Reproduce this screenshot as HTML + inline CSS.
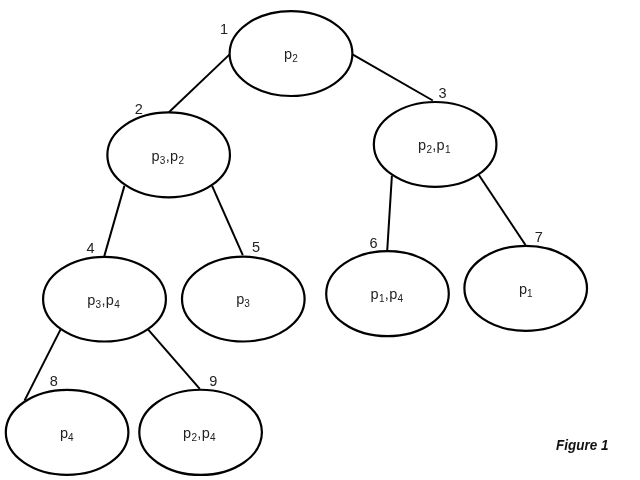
<!DOCTYPE html><html><head><meta charset="utf-8"><style>html,body{margin:0;padding:0;background:#fff;}svg{display:block;will-change:transform;}text{font-family:"Liberation Sans",sans-serif;fill:#222;}</style></head><body>
<svg width="640" height="480" viewBox="0 0 640 480">
<rect width="640" height="480" fill="#fff"/>
<line x1="229.4" y1="54.6" x2="168.9" y2="112.2" stroke="#000" stroke-width="2.0"/>
<line x1="352.9" y1="54.6" x2="432.8" y2="100.5" stroke="#000" stroke-width="2.0"/>
<line x1="124.4" y1="185.9" x2="104.3" y2="256.1" stroke="#000" stroke-width="2.0"/>
<line x1="212.1" y1="185.9" x2="242.8" y2="255.2" stroke="#000" stroke-width="2.0"/>
<line x1="391.9" y1="175.6" x2="387.2" y2="250.7" stroke="#000" stroke-width="2.0"/>
<line x1="478.9" y1="175" x2="525.5" y2="245.0" stroke="#000" stroke-width="2.0"/>
<line x1="60.6" y1="329.4" x2="24.5" y2="400.6" stroke="#000" stroke-width="2.0"/>
<line x1="148.2" y1="329.7" x2="199.8" y2="388.8" stroke="#000" stroke-width="2.0"/>
<ellipse cx="291.0" cy="53.55" rx="61.4" ry="42.45" fill="none" stroke="#000" stroke-width="2.2"/>
<ellipse cx="168.65" cy="154.9" rx="61.3" ry="42.5" fill="none" stroke="#000" stroke-width="2.2"/>
<ellipse cx="435.15" cy="144.45" rx="61.3" ry="42.45" fill="none" stroke="#000" stroke-width="2.2"/>
<ellipse cx="104.5" cy="299.15" rx="61.4" ry="42.35" fill="none" stroke="#000" stroke-width="2.2"/>
<ellipse cx="243.3" cy="299.1" rx="61.3" ry="42.4" fill="none" stroke="#000" stroke-width="2.2"/>
<ellipse cx="387.5" cy="293.7" rx="61.3" ry="42.5" fill="none" stroke="#000" stroke-width="2.2"/>
<ellipse cx="525.7" cy="288.35" rx="61.3" ry="42.55" fill="none" stroke="#000" stroke-width="2.2"/>
<ellipse cx="67.1" cy="432.35" rx="61.3" ry="42.55" fill="none" stroke="#000" stroke-width="2.2"/>
<ellipse cx="200.6" cy="432.35" rx="61.3" ry="42.6" fill="none" stroke="#000" stroke-width="2.2"/>
<text x="290.9" y="58.85" text-anchor="middle"><tspan font-size="14.5">p</tspan><tspan font-size="10.0" dy="3.0">2</tspan></text>
<text x="167.85" y="160.5" text-anchor="middle" letter-spacing="0.3"><tspan font-size="14.5">p</tspan><tspan font-size="10.0" dy="3.0">3</tspan><tspan font-size="14.5" dy="-3.0">,</tspan><tspan font-size="14.5">p</tspan><tspan font-size="10.0" dy="3.0">2</tspan></text>
<text x="434.45" y="149.9" text-anchor="middle" letter-spacing="0.3"><tspan font-size="14.5">p</tspan><tspan font-size="10.0" dy="3.0">2</tspan><tspan font-size="14.5" dy="-3.0">,</tspan><tspan font-size="14.5">p</tspan><tspan font-size="10.0" dy="3.0">1</tspan></text>
<text x="103.6" y="304.5" text-anchor="middle" letter-spacing="0.3"><tspan font-size="14.5">p</tspan><tspan font-size="10.0" dy="3.0">3</tspan><tspan font-size="14.5" dy="-3.0">,</tspan><tspan font-size="14.5">p</tspan><tspan font-size="10.0" dy="3.0">4</tspan></text>
<text x="243.0" y="304.3" text-anchor="middle"><tspan font-size="14.5">p</tspan><tspan font-size="10.0" dy="3.0">3</tspan></text>
<text x="387.0" y="298.95" text-anchor="middle" letter-spacing="0.3"><tspan font-size="14.5">p</tspan><tspan font-size="10.0" dy="3.0">1</tspan><tspan font-size="14.5" dy="-3.0">,</tspan><tspan font-size="14.5">p</tspan><tspan font-size="10.0" dy="3.0">4</tspan></text>
<text x="525.8" y="293.8" text-anchor="middle"><tspan font-size="14.5">p</tspan><tspan font-size="10.0" dy="3.0">1</tspan></text>
<text x="66.8" y="437.6" text-anchor="middle"><tspan font-size="14.5">p</tspan><tspan font-size="10.0" dy="3.0">4</tspan></text>
<text x="199.5" y="437.6" text-anchor="middle" letter-spacing="0.3"><tspan font-size="14.5">p</tspan><tspan font-size="10.0" dy="3.0">2</tspan><tspan font-size="14.5" dy="-3.0">,</tspan><tspan font-size="14.5">p</tspan><tspan font-size="10.0" dy="3.0">4</tspan></text>
<text x="219.9" y="33.8" font-size="14.5">1</text>
<text x="134.7" y="113.75" font-size="14.5">2</text>
<text x="438.5" y="97.6" font-size="14.5">3</text>
<text x="86.5" y="252.6" font-size="14.5">4</text>
<text x="252.0" y="252.4" font-size="14.5">5</text>
<text x="369.5" y="247.5" font-size="14.5">6</text>
<text x="534.7" y="241.6" font-size="14.5">7</text>
<text x="49.7" y="385.8" font-size="14.5">8</text>
<text x="209.3" y="386" font-size="14.5">9</text>
<text x="556.0" y="449.9" font-size="14.3" font-weight="bold" font-style="italic" textLength="52.5" lengthAdjust="spacingAndGlyphs" style="fill:#111">Figure 1</text>
</svg></body></html>
